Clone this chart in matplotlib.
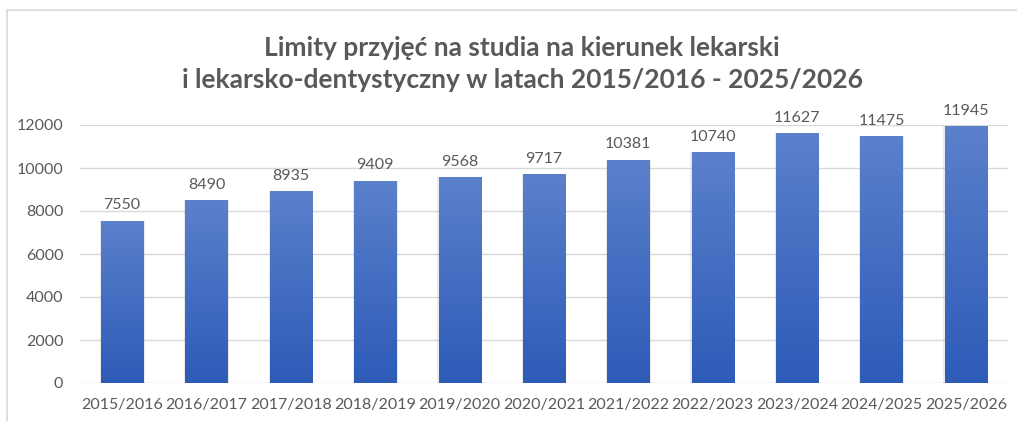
import numpy as np
import matplotlib.pyplot as plt
from matplotlib.patches import Rectangle
from matplotlib.colors import LinearSegmentedColormap

# dane z wykresu
lata = ["2015/2016", "2016/2017", "2017/2018", "2018/2019", "2019/2020", "2020/2021",
        "2021/2022", "2022/2023", "2023/2024", "2024/2025", "2025/2026"]
limity = [7550, 8490, 8935, 9409, 9568, 9717, 10381, 10740, 11627, 11475, 11945]
yticks = [0, 2000, 4000, 6000, 8000, 10000, 12000]

plt.rcParams['font.family'] = ['Lato', 'DejaVu Sans']
szary = "#595959"

fig = plt.figure(figsize=(10.17, 4.21), dpi=100)
W, H = 1017, 421
# ramka wykresu
fig.patches.append(Rectangle((7 / W, -0.1), 1.2, 1 - 10 / H + 0.1, transform=fig.transFigure,
                             fill=False, edgecolor="#d9d9d9", linewidth=1.2))

ax = fig.add_axes([80 / W, (H - 383) / H, (1008 - 80) / W, (383 - 125) / H])
x = np.arange(len(lata))
bars = ax.bar(x, limity, width=0.5, color="#3d68c0", zorder=3, linewidth=0)

# gradient na slupkach
grad = np.linspace(0, 1, 256).reshape(-1, 1)
cmap = LinearSegmentedColormap.from_list("g", ["#2d5bb7", "#5b80cc"])
for b in bars:
    x0 = b.get_x()
    w, h = b.get_width(), b.get_height()
    # cien
    ax.bar(x0 + w / 2, h, width=w * 1.06, color="#000000", alpha=0.08, zorder=2, linewidth=0)
    im = ax.imshow(grad, extent=[x0, x0 + w, 0, h], origin="lower", cmap=cmap,
                   aspect="auto", zorder=4)
    im.set_clip_path(b)

for xi, v in zip(x, limity):
    ax.annotate(str(v), (xi, v), xytext=(0, 6), textcoords="offset points",
                ha="center", va="bottom", fontsize=11.5, color=szary)

ax.set_xlim(-0.5, len(lata) - 0.5)
ax.set_ylim(0, 12000)
ax.set_yticks(yticks)
ax.set_xticks(x)
ax.set_xticklabels(lata)
ax.tick_params(axis="both", length=0, colors=szary, labelsize=11.5)
ax.tick_params(axis="y", pad=12)
ax.tick_params(axis="x", pad=11)
ax.grid(axis="y", color="#d9d9d9", linewidth=1, zorder=0)
for s in ax.spines.values():
    s.set_visible(False)

fig.text(522 / W, 1 - 64 / H, "Limity przyjęć na studia na kierunek lekarski\ni lekarsko-dentystyczny w latach 2015/2016 - 2025/2026",
         ha="center", va="center", fontsize=19, fontweight="bold", color=szary, linespacing=1.4)

fig.savefig("out.png", dpi=100)
